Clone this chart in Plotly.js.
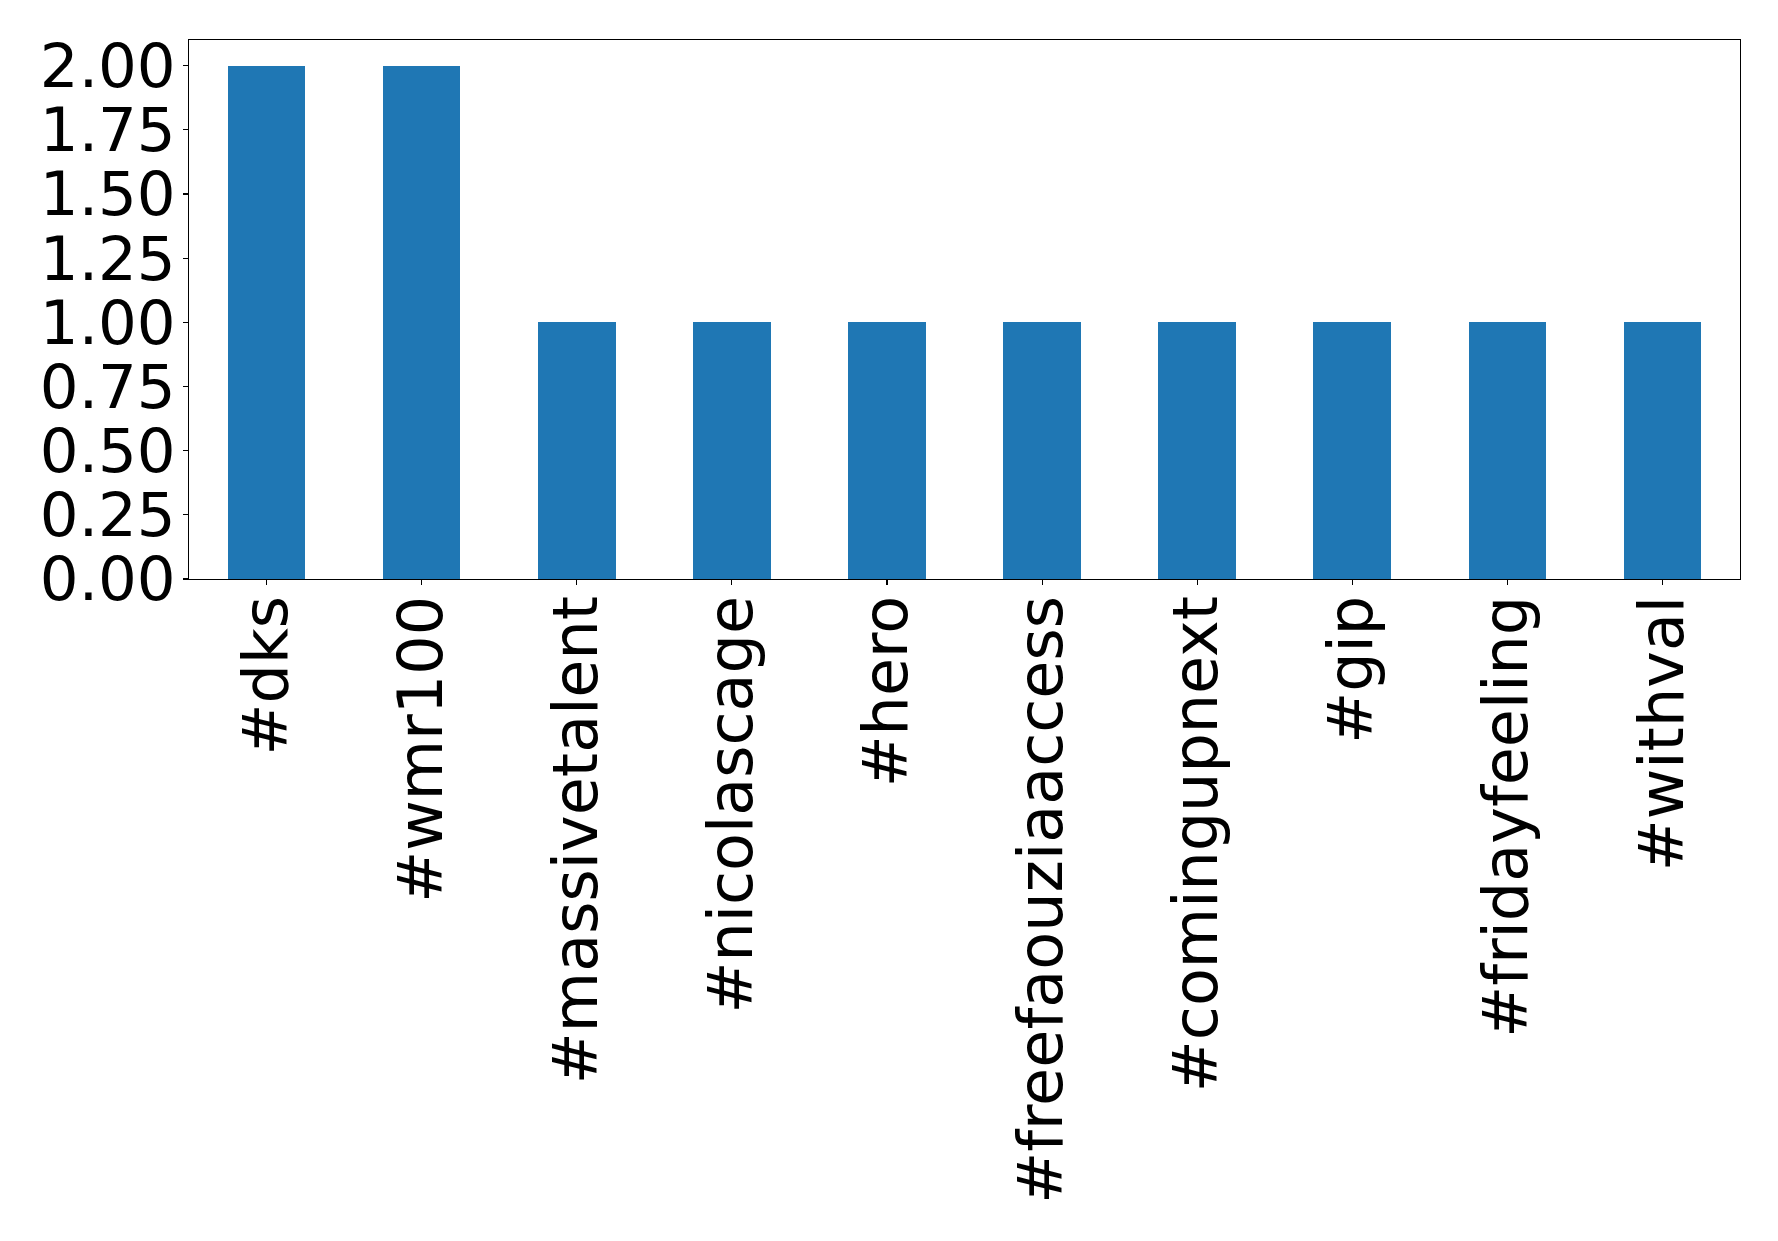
<!DOCTYPE html>
<html>
<head>
<meta charset="utf-8">
<script src="https://cdn.plot.ly/plotly-3.0.1.min.js"></script>
<style>html,body{margin:0;padding:0;background:#fff;}#chart{width:1778px;height:1241px;}</style>
</head>
<body>
<div id="chart"></div>
<script>
const hashtags = ["#dks", "#wmr100", "#massivetalent", "#nicolascage", "#hero", "#freefaouziaaccess", "#comingupnext", "#gip", "#fridayfeeling", "#withval"];
const counts = [2, 2, 1, 1, 1, 1, 1, 1, 1, 1];
const yTicks = [0, 0.25, 0.5, 0.75, 1.0, 1.25, 1.5, 1.75, 2.0];

const positions = hashtags.map((_, i) => i);

const trace = {
  type: "bar",
  x: positions,
  y: counts,
  width: 0.5,
  marker: {color: "#1f77b4", line: {width: 0}},
  hoverinfo: "skip"
};

const xfont = {family: "DejaVu Sans, sans-serif", size: 62, color: "#000"};
const yfont = {family: "DejaVu Sans, sans-serif", size: 61, color: "#000"};

const layout = {
  width: 1778,
  height: 1241,
  margin: {l: 189, r: 38, t: 40, b: 662, pad: 0},
  paper_bgcolor: "#fff",
  plot_bgcolor: "#fff",
  showlegend: false,
  bargap: 0,
  xaxis: {
    range: [-0.5, 9.5],
    tickmode: "array",
    tickvals: positions,
    ticktext: hashtags,
    tickangle: -90,
    tickfont: xfont,
    ticklabelstandoff: -14,
    ticks: "outside",
    ticklen: 5,
    tickwidth: 1.1,
    tickcolor: "#000",
    showline: true,
    linecolor: "#000",
    linewidth: 1.1,
    mirror: true,
    showgrid: false,
    zeroline: false,
    automargin: false,
    fixedrange: true
  },
  yaxis: {
    range: [0, 2.1],
    tickmode: "array",
    tickvals: yTicks,
    ticktext: yTicks.map(v => v.toFixed(2)),
    tickfont: yfont,
    ticklabelstandoff: -5,
    ticks: "outside",
    ticklen: 5,
    tickwidth: 1.1,
    tickcolor: "#000",
    showline: true,
    linecolor: "#000",
    linewidth: 1.1,
    mirror: true,
    showgrid: false,
    zeroline: false,
    automargin: false,
    fixedrange: true
  }
};

Plotly.newPlot("chart", [trace], layout, {displayModeBar: false, staticPlot: true});
</script>
</body>
</html>
